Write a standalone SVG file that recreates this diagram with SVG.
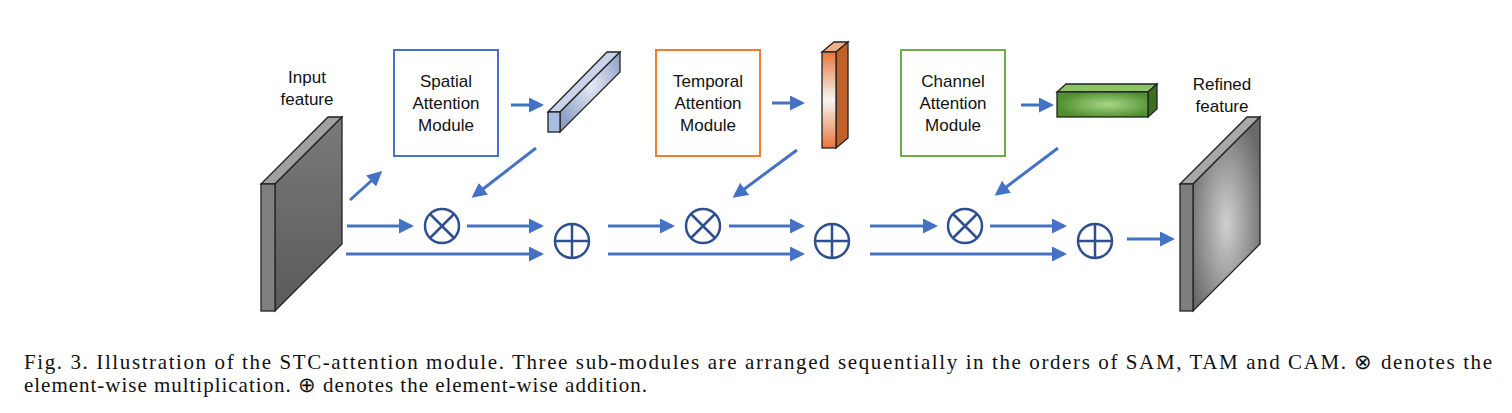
<svg xmlns="http://www.w3.org/2000/svg" width="1512" height="413" viewBox="0 0 1512 413">
<style>
.t{font-family:"Liberation Sans",Arial,sans-serif;font-size:17px;fill:#111;text-anchor:middle}
.c{font-family:"Liberation Serif","Times New Roman",serif;font-size:21px;fill:#111}
.a{stroke:#4472c4;stroke-width:3;fill:none;marker-end:url(#ah)}
.op{stroke:#2f4f8f;stroke-width:2.5;fill:none}
.sl{stroke:#222;stroke-width:1.3}
</style>
<defs>
<marker id="ah" markerWidth="5" markerHeight="5" refX="4" refY="2.5" orient="auto" markerUnits="strokeWidth"><path d="M0,0 L5,2.5 L0,5 z" fill="#4472c4"/></marker>
<linearGradient id="gIn" x1="0" y1="0" x2="0" y2="1"><stop offset="0" stop-color="#7a7a7a"/><stop offset="1" stop-color="#5a5a5a"/></linearGradient>
<radialGradient id="gOut" cx="0.5" cy="0.55" r="0.6"><stop offset="0" stop-color="#d0d0d0"/><stop offset="1" stop-color="#6a6a6a"/></radialGradient>
<radialGradient id="gB" cx="0.5" cy="0.4" r="0.6"><stop offset="0" stop-color="#e8ecf6"/><stop offset="1" stop-color="#8fa2c6"/></radialGradient>
<linearGradient id="gO" x1="0" y1="0" x2="0" y2="1"><stop offset="0" stop-color="#e8743b"/><stop offset="0.5" stop-color="#f6f6f6"/><stop offset="1" stop-color="#e8743b"/></linearGradient>
<radialGradient id="gG" cx="0.55" cy="0.5" r="0.55"><stop offset="0" stop-color="#a9d68a"/><stop offset="1" stop-color="#4f8f2c"/></radialGradient>
</defs>

<g id="input">
<polygon class="sl" points="261,184 328,117 342,117 275,184" fill="#a0a0a0"/>
<polygon class="sl" points="275,184 342,117 342,244 275,311" fill="url(#gIn)"/>
<rect class="sl" x="261" y="184" width="14" height="127" fill="#808080"/>
<text class="t" x="307" y="83">Input</text>
<text class="t" x="307" y="105">feature</text>
</g>

<g id="sam">
<rect x="394" y="50" width="104" height="106" fill="#fff" stroke="#4472c4" stroke-width="2"/>
<text class="t" x="446" y="87">Spatial</text>
<text class="t" x="446" y="109">Attention</text>
<text class="t" x="446" y="131">Module</text>
</g>
<g id="sbar">
<polygon class="sl" points="548,112 607,52 620,52 560,112" fill="#c9d4ec"/>
<polygon class="sl" points="560,112 620,52 620,72 560,132" fill="url(#gB)"/>
<rect class="sl" x="548" y="112" width="12" height="20" fill="#a9bde3"/>
</g>

<g id="tam">
<rect x="656" y="50" width="104" height="106" fill="#fff" stroke="#ed7d31" stroke-width="2"/>
<text class="t" x="708" y="87">Temporal</text>
<text class="t" x="708" y="109">Attention</text>
<text class="t" x="708" y="131">Module</text>
</g>
<g id="tbar">
<polygon class="sl" points="822,52 834,42 848,42 836,52" fill="#f0b08a"/>
<polygon class="sl" points="836,52 848,42 848,138 836,148" fill="#c0602a"/>
<rect class="sl" x="822" y="52" width="14" height="96" fill="url(#gO)"/>
</g>

<g id="cam">
<rect x="901" y="50" width="104" height="106" fill="#fff" stroke="#70ad47" stroke-width="2"/>
<text class="t" x="953" y="87">Channel</text>
<text class="t" x="953" y="109">Attention</text>
<text class="t" x="953" y="131">Module</text>
</g>
<g id="cbar">
<polygon class="sl" points="1057,92 1066,84 1157,84 1148,92" fill="#8cc46a"/>
<polygon class="sl" points="1148,92 1157,84 1157,109 1148,117" fill="#3f6e23"/>
<rect class="sl" x="1057" y="92" width="91" height="25" fill="url(#gG)"/>
</g>

<g id="output">
<polygon class="sl" points="1180,184 1247,117 1260,117 1193,184" fill="#a8a8a8"/>
<polygon class="sl" points="1193,184 1260,117 1260,244 1193,311" fill="url(#gOut)"/>
<rect class="sl" x="1180" y="184" width="13" height="127" fill="#7e7e7e"/>
<text class="t" x="1222" y="90">Refined</text>
<text class="t" x="1222" y="112">feature</text>
</g>

<g id="ops">
<g id="mul1"><circle class="op" cx="442" cy="226" r="17"/><path class="op" d="M430,214 L454,238 M454,214 L430,238"/></g>
<g id="add1"><circle class="op" cx="572" cy="241" r="17"/><path class="op" d="M555,241 H589 M572,224 V258"/></g>
<g id="mul2"><circle class="op" cx="703" cy="226" r="17"/><path class="op" d="M691,214 L715,238 M715,214 L691,238"/></g>
<g id="add2"><circle class="op" cx="832" cy="241" r="17"/><path class="op" d="M815,241 H849 M832,224 V258"/></g>
<g id="mul3"><circle class="op" cx="965" cy="226" r="17"/><path class="op" d="M953,214 L977,238 M977,214 L953,238"/></g>
<g id="add3"><circle class="op" cx="1095" cy="241" r="17"/><path class="op" d="M1078,241 H1112 M1095,224 V258"/></g>
</g>

<g id="connectors">
<line class="a" x1="350" y1="200" x2="380" y2="173"/>
<line class="a" x1="511" y1="105" x2="541" y2="105"/>
<line class="a" x1="536" y1="148" x2="474" y2="196"/>
<line class="a" x1="347" y1="226" x2="411" y2="226"/>
<line class="a" x1="467" y1="226" x2="541" y2="226"/>
<line class="a" x1="346" y1="254" x2="541" y2="254"/>
<line class="a" x1="772" y1="103" x2="802" y2="103"/>
<line class="a" x1="797" y1="150" x2="735" y2="196"/>
<line class="a" x1="608" y1="226" x2="672" y2="226"/>
<line class="a" x1="729" y1="226" x2="802" y2="226"/>
<line class="a" x1="608" y1="254" x2="802" y2="254"/>
<line class="a" x1="1021" y1="105" x2="1051" y2="105"/>
<line class="a" x1="1058" y1="148" x2="997" y2="194"/>
<line class="a" x1="870" y1="226" x2="935" y2="226"/>
<line class="a" x1="990" y1="226" x2="1064" y2="226"/>
<line class="a" x1="870" y1="254" x2="1064" y2="254"/>
<line class="a" x1="1127" y1="239" x2="1172" y2="239"/>
</g>

<text class="c" x="24" y="369" textLength="1468" lengthAdjust="spacing">Fig. 3.   Illustration of the STC-attention module. Three sub-modules are arranged sequentially in the orders of SAM, TAM and CAM. ⊗ denotes the</text>
<text class="c" x="24" y="392" textLength="623" lengthAdjust="spacing">element-wise multiplication. ⊕ denotes the element-wise addition.</text>
</svg>
